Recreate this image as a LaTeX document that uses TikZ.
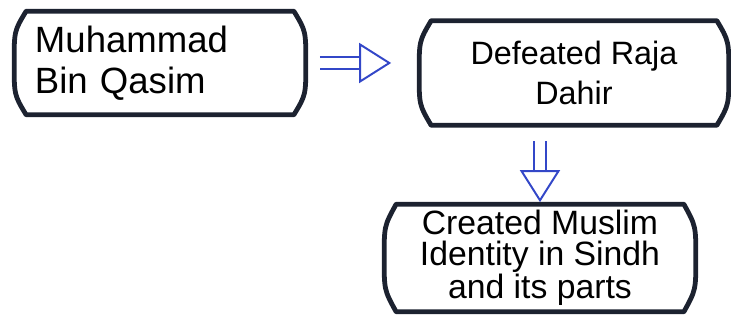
\documentclass[tikz,border=0pt]{standalone}
\usepackage{fontspec}
\setmainfont{Liberation Sans}
\usetikzlibrary{arrows.meta, calc}
\definecolor{cink}{HTML}{1C2230}
\definecolor{cblue}{HTML}{3347C8}
\tikzset{
  every picture/.style={line width=1.2pt},
  box/.style={minimum height=2.55cm, inner sep=0pt, align=center},
  outline/.style={draw=cink, line width=3.4pt, line join=round},
  flow/.style={draw=cblue, line width=1.4pt, double=white, double distance=6.5pt,
    -{Triangle[open, length=8mm, width=10mm, line width=1.4pt]}},
}
\begin{document}
\begin{tikzpicture}
  \useasboundingbox (0,0) rectangle (18.275,8.125);
  \node[box, minimum width=7.25cm, text width=6.25cm, align=left, inner xsep=0.5cm,
        font=\fontsize{26}{29}\selectfont] (mq) at (4.0,6.55) {Muhammad\\Bin Qasim};
  \node[box, minimum width=7.7cm, minimum height=2.575cm,
        font=\fontsize{23}{28}\selectfont] (dr) at (14.35,6.3) {Defeated Raja\\Dahir};
  \node[box, minimum width=7.75cm, minimum height=2.65cm,
        font=\fontsize{24}{22}\selectfont] (ci) at (13.5,1.675) {Created Muslim\\Identity in Sindh\\and its parts};
  % hand-drawn frames
  \foreach \n in {mq, dr, ci}
    \draw[outline] ($(\n.north west)+(0.3,0)$) -- ($(\n.north east)+(-0.3,0)$)
      .. controls ($(\n.east)+(0,0.8)$) .. (\n.east)
      .. controls ($(\n.east)+(0,-0.8)$) .. ($(\n.south east)+(-0.3,0)$)
      -- ($(\n.south west)+(0.3,0)$)
      .. controls ($(\n.west)+(0,-0.8)$) .. (\n.west)
      .. controls ($(\n.west)+(0,0.8)$) .. cycle;
  \draw[flow, shorten <=0.35cm, shorten >=0.7cm] (mq.east) -- (mq.east -| dr.west);
  \draw[flow, shorten <=0.4cm, shorten >=0.05cm] (ci.north |- dr.south) -- (ci.north);
\end{tikzpicture}
\end{document}
